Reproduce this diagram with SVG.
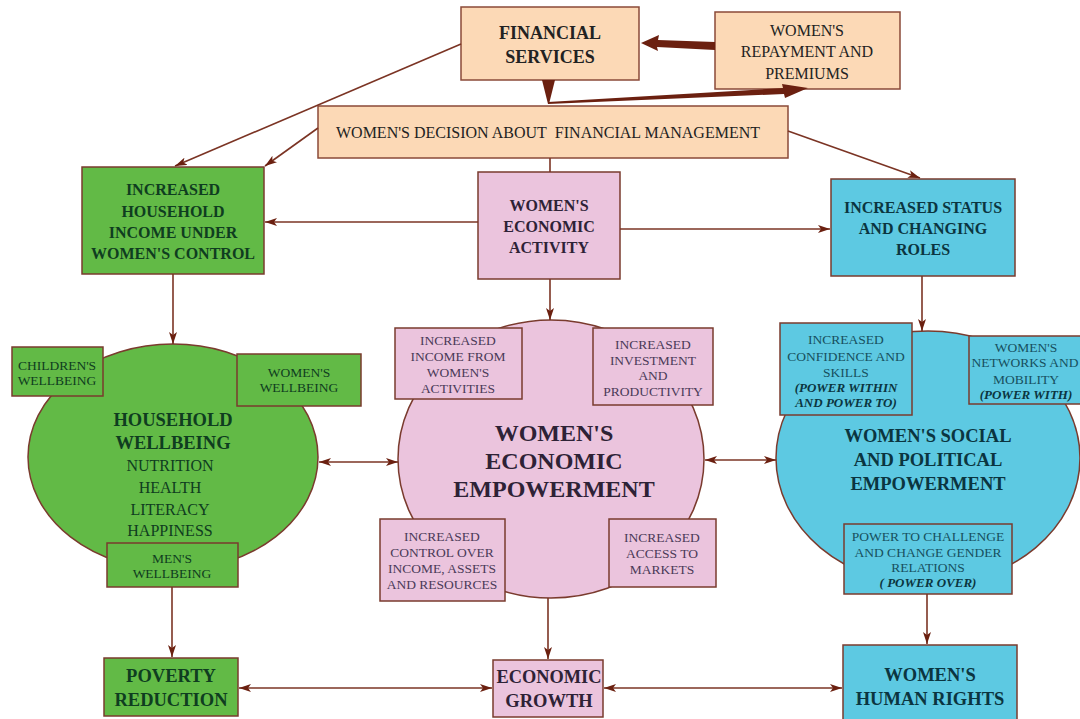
<svg xmlns="http://www.w3.org/2000/svg" width="1080" height="719" viewBox="0 0 1080 719">
<defs>
<style>
text{font-family:"Liberation Serif","Times New Roman",serif;text-anchor:middle}
.b{font-weight:bold}
.i{font-style:italic;font-weight:bold}
.s{font-size:13.5px}
.peach{fill:#FCD9B6;stroke:#8A4A38;stroke-width:1.5}
.green{fill:#62BA46;stroke:#7A3B2E;stroke-width:1.5}
.pink{fill:#EBC4DD;stroke:#7A3B2E;stroke-width:1.5}
.blue{fill:#5DC9E2;stroke:#7A3B2E;stroke-width:1.5}
.tp{fill:#222}
.tg{fill:#0F3D20}
.tk{fill:#2E2236}
.tk2{fill:#4A3A58}
.tb{fill:#0B3540}
.tb2{fill:#17505E}
.c{stroke:#7B3424;stroke-width:1.6;fill:none}
.fat{fill:#6B2010}
</style>
<marker id="ah" viewBox="0 0 12 8" refX="12" refY="4" markerWidth="12" markerHeight="8" markerUnits="userSpaceOnUse" orient="auto-start-reverse">
<path d="M0,0 L12,4 L0,8 L3,4 Z" fill="#6B2010"/>
</marker>
</defs>

<g id="financial-services">
<rect class="peach" x="461" y="7" width="178" height="73"/>
<text class="b tp" font-size="18" x="550" y="39">FINANCIAL</text>
<text class="b tp" font-size="18" x="550" y="63">SERVICES</text>
</g>

<g id="repayment">
<rect class="peach" x="715" y="12" width="185" height="77"/>
<text class="tp" font-size="16" x="807" y="36">WOMEN'S</text>
<text class="tp" font-size="16" x="807" y="57">REPAYMENT AND</text>
<text class="tp" font-size="16" x="807" y="79">PREMIUMS</text>
</g>

<g id="decision">
<rect class="peach" x="318" y="106" width="470" height="52"/>
<text class="tp" font-size="16" x="548" y="138">WOMEN'S DECISION ABOUT&#160; FINANCIAL MANAGEMENT</text>
</g>

<g id="household-income">
<rect class="green" x="82" y="167" width="182" height="107"/>
<text class="b tg" font-size="16" x="173" y="195">INCREASED</text>
<text class="b tg" font-size="16" x="173" y="217">HOUSEHOLD</text>
<text class="b tg" font-size="16" x="173" y="238">INCOME UNDER</text>
<text class="b tg" font-size="16" x="173" y="259">WOMEN'S CONTROL</text>
</g>

<g id="economic-activity">
<rect class="pink" x="478" y="172" width="142" height="107"/>
<text class="b tk" font-size="16" x="549" y="211">WOMEN'S</text>
<text class="b tk" font-size="16" x="549" y="232">ECONOMIC</text>
<text class="b tk" font-size="16" x="549" y="253">ACTIVITY</text>
</g>

<g id="status-roles">
<rect class="blue" x="831" y="179" width="184" height="97"/>
<text class="b tb" font-size="16" x="923" y="213">INCREASED STATUS</text>
<text class="b tb" font-size="16" x="923" y="234">AND CHANGING</text>
<text class="b tb" font-size="16" x="923" y="255">ROLES</text>
</g>

<g id="household-wellbeing">
<ellipse class="green" cx="173" cy="457" rx="145" ry="113"/>
<text class="b tg" font-size="18.5" x="173" y="426">HOUSEHOLD</text>
<text class="b tg" font-size="18.5" x="173" y="449">WELLBEING</text>
<text class="tg" font-size="16" x="170" y="471">NUTRITION</text>
<text class="tg" font-size="16" x="170" y="493">HEALTH</text>
<text class="tg" font-size="16" x="170" y="515">LITERACY</text>
<text class="tg" font-size="16" x="170" y="536">HAPPINESS</text>
</g>
<g id="childrens-wellbeing">
<rect class="green" x="12" y="347" width="91" height="49"/>
<text class="tg s" x="57" y="370">CHILDREN'S</text>
<text class="tg s" x="57" y="385">WELLBEING</text>
</g>
<g id="womens-wellbeing">
<rect class="green" x="237" y="354" width="124" height="52"/>
<text class="tg s" x="299" y="377">WOMEN'S</text>
<text class="tg s" x="299" y="392">WELLBEING</text>
</g>
<g id="mens-wellbeing">
<rect class="green" x="107" y="543" width="131" height="44"/>
<text class="tg s" x="172" y="563">MEN'S</text>
<text class="tg s" x="172" y="578">WELLBEING</text>
</g>

<g id="economic-empowerment">
<ellipse class="pink" cx="551" cy="459" rx="153" ry="139"/>
<text class="b tk" font-size="24" x="554" y="441">WOMEN'S</text>
<text class="b tk" font-size="24" x="554" y="469">ECONOMIC</text>
<text class="b tk" font-size="24" x="554" y="497">EMPOWERMENT</text>
</g>
<g id="income-activities">
<rect class="pink" x="395" y="328" width="127" height="71"/>
<text class="tk2 s" x="458" y="345">INCREASED</text>
<text class="tk2 s" x="458" y="361">INCOME FROM</text>
<text class="tk2 s" x="458" y="377">WOMEN'S</text>
<text class="tk2 s" x="458" y="393">ACTIVITIES</text>
</g>
<g id="investment">
<rect class="pink" x="593" y="328" width="120" height="77"/>
<text class="tk2 s" x="653" y="349">INCREASED</text>
<text class="tk2 s" x="653" y="365">INVESTMENT</text>
<text class="tk2 s" x="653" y="380">AND</text>
<text class="tk2 s" x="653" y="396">PRODUCTIVITY</text>
</g>
<g id="control">
<rect class="pink" x="380" y="519" width="125" height="82"/>
<text class="tk2 s" x="442" y="541">INCREASED</text>
<text class="tk2 s" x="442" y="557">CONTROL OVER</text>
<text class="tk2 s" x="442" y="573">INCOME, ASSETS</text>
<text class="tk2 s" x="442" y="589">AND RESOURCES</text>
</g>
<g id="markets">
<rect class="pink" x="609" y="519" width="107" height="68"/>
<text class="tk2 s" x="662" y="542">INCREASED</text>
<text class="tk2 s" x="662" y="558">ACCESS TO</text>
<text class="tk2 s" x="662" y="574">MARKETS</text>
</g>

<g id="social-political">
<ellipse class="blue" cx="928" cy="458" rx="152" ry="127"/>
<text class="b tb" font-size="18.5" x="928" y="442">WOMEN'S SOCIAL</text>
<text class="b tb" font-size="18.5" x="928" y="466">AND POLITICAL</text>
<text class="b tb" font-size="18.5" x="928" y="490">EMPOWERMENT</text>
</g>
<g id="confidence">
<rect class="blue" x="780" y="323" width="132" height="92"/>
<text class="tb2 s" x="846" y="344">INCREASED</text>
<text class="tb2 s" x="846" y="361">CONFIDENCE AND</text>
<text class="tb2 s" x="846" y="377">SKILLS</text>
<text class="i tb" font-size="13" x="846" y="392">(POWER WITHIN</text>
<text class="i tb" font-size="13" x="846" y="407">AND POWER TO)</text>
</g>
<g id="networks">
<rect class="blue" x="969" y="336" width="118" height="68"/>
<text class="tb2 s" x="1026" y="352">WOMEN'S</text>
<text class="tb2 s" x="1025" y="367">NETWORKS AND</text>
<text class="tb2 s" x="1026" y="384">MOBILITY</text>
<text class="i tb" font-size="13" x="1026" y="399">(POWER WITH)</text>
</g>
<g id="challenge">
<rect class="blue" x="844" y="524" width="168" height="70"/>
<text class="tb2 s" x="928" y="541">POWER TO CHALLENGE</text>
<text class="tb2 s" x="928" y="557">AND CHANGE GENDER</text>
<text class="tb2 s" x="928" y="572">RELATIONS</text>
<text class="i tb" font-size="13" x="928" y="587">( POWER OVER)</text>
</g>

<g id="poverty-reduction">
<rect class="green" x="104" y="658" width="134" height="58"/>
<text class="b tg" font-size="18.5" x="171" y="682">POVERTY</text>
<text class="b tg" font-size="18.5" x="171" y="706">REDUCTION</text>
</g>
<g id="economic-growth">
<rect class="pink" x="493" y="660" width="110" height="57"/>
<text class="b tk" font-size="18.5" x="549" y="683" textLength="105" lengthAdjust="spacingAndGlyphs">ECONOMIC</text>
<text class="b tk" font-size="18.5" x="549" y="707">GROWTH</text>
</g>
<g id="human-rights">
<rect class="blue" x="843" y="645" width="174" height="76"/>
<text class="b tb" font-size="18.5" x="930" y="681">WOMEN'S</text>
<text class="b tb" font-size="18.5" x="930" y="705">HUMAN RIGHTS</text>
</g>

<g id="connectors">
<polygon class="fat" points="715,42 658,40 659,35 641,43 658,51 657,47 715,50"/>
<polygon class="fat" points="542,80 555,80 549,104 548,104"/>
<polygon class="fat" points="548,104 784,94 785,98 808,88 782,84 783,88 548,102"/>
<line class="c" x1="461" y1="44" x2="175" y2="166" marker-end="url(#ah)"/>
<line class="c" x1="318" y1="128" x2="265" y2="166" marker-end="url(#ah)"/>
<line class="c" x1="788" y1="131" x2="920" y2="178" marker-end="url(#ah)"/>
<line class="c" x1="550" y1="158" x2="550" y2="172"/>
<line class="c" x1="478" y1="222" x2="265" y2="222" marker-end="url(#ah)"/>
<line class="c" x1="620" y1="229" x2="830" y2="229" marker-end="url(#ah)"/>
<line class="c" x1="550" y1="279" x2="550" y2="320" marker-end="url(#ah)"/>
<line class="c" x1="173" y1="274" x2="173" y2="344" marker-end="url(#ah)"/>
<line class="c" x1="922" y1="276" x2="922" y2="331" marker-end="url(#ah)"/>
<line class="c" x1="319" y1="462" x2="398" y2="462" marker-start="url(#ah)" marker-end="url(#ah)"/>
<line class="c" x1="705" y1="460" x2="776" y2="460" marker-start="url(#ah)" marker-end="url(#ah)"/>
<line class="c" x1="172" y1="587" x2="172" y2="657" marker-end="url(#ah)"/>
<line class="c" x1="548" y1="598" x2="548" y2="659" marker-end="url(#ah)"/>
<line class="c" x1="927" y1="594" x2="927" y2="644" marker-end="url(#ah)"/>
<line class="c" x1="239" y1="688" x2="492" y2="688" marker-start="url(#ah)" marker-end="url(#ah)"/>
<line class="c" x1="604" y1="688" x2="842" y2="688" marker-start="url(#ah)" marker-end="url(#ah)"/>
</g>
</svg>
